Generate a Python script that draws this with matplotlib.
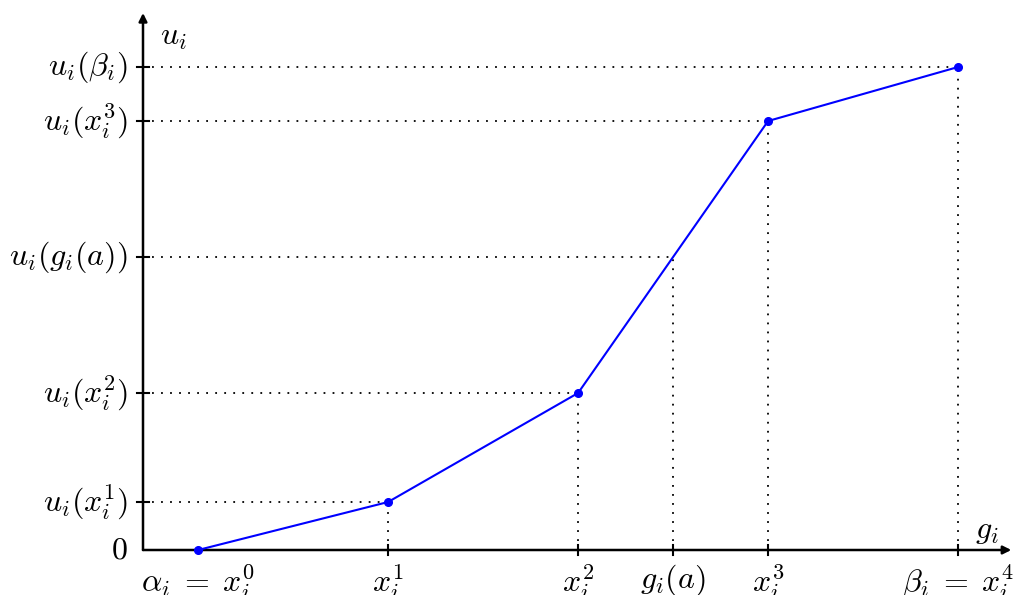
import matplotlib.pyplot as plt

plt.rcParams['mathtext.fontset'] = 'cm'

# breakpoints of the piecewise linear utility (axis units)
x_pts = [0.29, 1.29, 2.29, 3.29, 4.29]
u_pts = [0.0, 0.48, 1.57, 4.29, 4.83]
g_a = 2.79
u_ga = 2.93

x_ticks = [1.29, 2.29, 2.79, 3.29, 4.29]
x_labels = [r'$x_i^1$', r'$x_i^2$', r'$g_i(a)$', r'$x_i^3$', r'$\beta_i\;=\;x_i^4$']
y_ticks = [0.0, 0.48, 1.57, 2.93, 4.29, 4.83]
y_labels = [r'$0$', r'$u_i(x_i^1)$', r'$u_i(x_i^2)$', r'$u_i(g_i(a))$',
            r'$u_i(x_i^3)$', r'$u_i(\beta_i)$']

fig = plt.figure(figsize=(10.13, 5.95), dpi=100)
ax = fig.add_axes([0, 0, 1, 1])
ax.set_xlim(-143 / 190, 870 / 190)
ax.set_ylim(-0.45, 5.5)
ax.axis('off')

fs = 23

# axes with arrows
ax.annotate('', xy=(4.57, 0), xytext=(0, 0),
            arrowprops=dict(arrowstyle='-|>', lw=1.8, color='black',
                            mutation_scale=12, shrinkA=0, shrinkB=0))
ax.annotate('', xy=(0, 5.37), xytext=(0, 0),
            arrowprops=dict(arrowstyle='-|>', lw=1.8, color='black',
                            mutation_scale=12, shrinkA=0, shrinkB=0))

# dotted guide lines
guide_x = [x_pts[1], x_pts[2], g_a, x_pts[3], x_pts[4]]
guide_y = [u_pts[1], u_pts[2], u_ga, u_pts[3], u_pts[4]]
for gx, gy in zip(guide_x, guide_y):
    ax.plot([0, gx], [gy, gy], ls=(0, (1, 4)), color='black', lw=1.3)
    ax.plot([gx, gx], [0, gy], ls=(0, (1, 4)), color='black', lw=1.3)

# tick marks
for t in x_ticks:
    ax.plot([t, t], [-0.05, 0.05], color='black', lw=1.5)
for t in y_ticks[1:]:
    ax.plot([-0.03, 0.03], [t, t], color='black', lw=1.5)

# utility curve
ax.plot(x_pts, u_pts, color='#0000ff', lw=1.5, marker='o', ms=5.5, zorder=5)

# labels
for t, lab in zip(x_ticks, x_labels):
    ax.text(t, -0.12, lab, ha='center', va='top', fontsize=fs)
ax.text(x_pts[0], -0.12, r'$\alpha_i\;=\;x_i^0$', ha='center', va='top', fontsize=fs)
for t, lab in zip(y_ticks, y_labels):
    ax.text(-0.08, t, lab, ha='right', va='center', fontsize=fs)

ax.text(0.09, 5.14, r'$u_i$', ha='left', va='center', fontsize=fs)
ax.text(4.38, 0.2, r'$g_i$', ha='left', va='center', fontsize=fs)

fig.savefig('out.png', dpi=100)
